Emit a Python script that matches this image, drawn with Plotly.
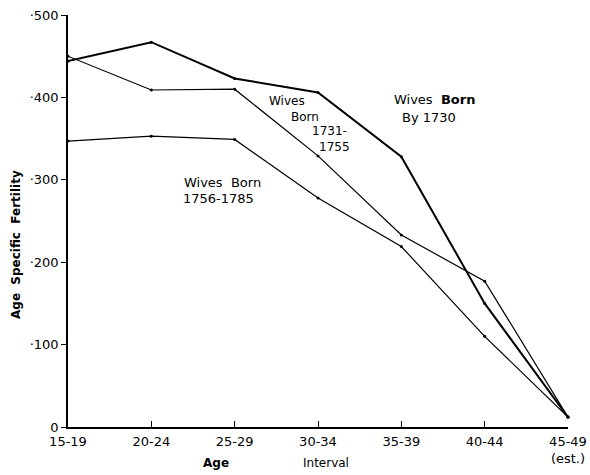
import plotly.graph_objects as go

age_groups = ["15-19", "20-24", "25-29", "30-34", "35-39", "40-44", "45-49<br>(est.)"]
born_by_1730 = [444, 467, 423, 406, 328, 150, 12]
born_1731_1755 = [450, 409, 410, 329, 233, 177, 12]
born_1756_1785 = [347, 353, 349, 278, 219, 110, 12]
y_tick_vals = [0, 100, 200, 300, 400, 500]
y_tick_text = ["0", "·100", "·200", "·300", "·400", "·500"]

x_idx = list(range(len(age_groups)))
font = "DejaVu Sans"

fig = go.Figure()
for vals, w in [(born_by_1730, 2.0), (born_1731_1755, 1.2), (born_1756_1785, 1.2)]:
    fig.add_trace(go.Scatter(
        x=x_idx, y=vals, mode="lines+markers",
        line=dict(color="black", width=w),
        marker=dict(color="black", size=3),
        cliponaxis=False, showlegend=False,
    ))

L, R, T, B = 68, 22, 15, 48
W, H = 590, 475
pw, ph = W - L - R, H - T - B

fig.update_layout(
    width=W, height=H,
    margin=dict(l=L, r=R, t=T, b=B),
    paper_bgcolor="white", plot_bgcolor="white",
    font=dict(family=font, color="black", size=13),
    xaxis=dict(
        range=[0, 6], tickmode="array", tickvals=x_idx, ticktext=age_groups,
        showgrid=False, zeroline=False, showline=True, linecolor="black", linewidth=1.5,
        ticks="inside", ticklen=6, tickcolor="black", tickwidth=1,
        ticklabelstandoff=2, automargin=False,
        tickfont=dict(size=13, family=font),
    ),
    yaxis=dict(
        range=[0, 500], tickmode="array", tickvals=y_tick_vals, ticktext=y_tick_text,
        showgrid=False, zeroline=False, showline=True, linecolor="black", linewidth=1.5,
        ticks="outside", ticklen=5, tickcolor="black", tickwidth=1, automargin=False,
        tickfont=dict(size=13, family=font),
    ),
)

annots = [
    dict(x=16, y=245, text="<b>Age  Specific  Fertility</b>", textangle=-90, size=12),
    dict(x=216, y=463, text="<b>Age</b>", size=12),
    dict(x=326, y=463, text="Interval", size=12),
    dict(x=434, y=99, text="Wives  <b>Born</b>", size=13),
    dict(x=429, y=117, text="By 1730", size=13),
    dict(x=287, y=101, text="Wives", size=12),
    dict(x=305, y=117, text="Born", size=12),
    dict(x=329, y=131, text="1731-", size=12),
    dict(x=334, y=147, text="1755", size=12),
    dict(x=222, y=182, text="Wives  Born", size=13),
    dict(x=218, y=198, text="1756-1785", size=13),
]
for a in annots:
    fig.add_annotation(
        x=(a["x"] - L) / pw, y=(H - B - a["y"]) / ph, xref="paper", yref="paper",
        xanchor="center", yanchor="middle", showarrow=False,
        text=a["text"], textangle=a.get("textangle", 0),
        font=dict(size=a["size"], family=font, color="black"),
    )

fig.write_html("out.html")
